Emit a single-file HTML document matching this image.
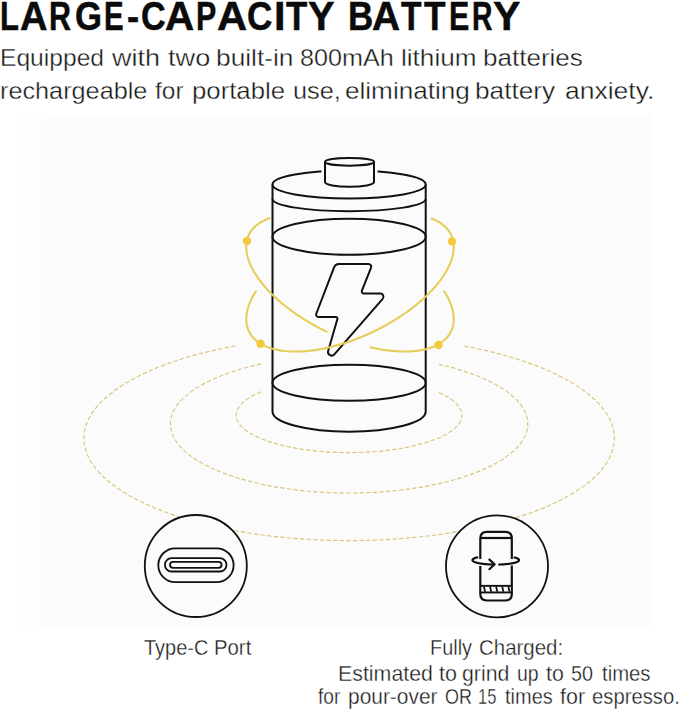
<!DOCTYPE html>
<html><head><meta charset="utf-8">
<style>
html,body{margin:0;padding:0;background:#fff;}
body{width:679px;height:710px;overflow:hidden;position:relative;font-family:"Liberation Sans",sans-serif;}
.ln{position:absolute;left:0;line-height:1;white-space:nowrap;-webkit-text-stroke:0.35px #fff;}
.ln span{position:absolute;top:0;transform-origin:0 0;}
#h1{position:absolute;left:0;top:-4px;font-size:40.5px;font-weight:bold;color:#0b0b0b;line-height:1;-webkit-text-stroke:0.5px #0b0b0b;}
#h1 span{position:absolute;top:0;transform-origin:0 0;white-space:nowrap;}
svg{position:absolute;left:0;top:0;}
</style></head>
<body>
<div style="position:absolute;left:22px;top:113px;width:631px;height:514px;background:#fdfdfd;"></div>
<div style="position:absolute;left:42px;top:118px;width:610px;height:508px;background:#fbfbfb;"></div>
<svg width="679" height="710" viewBox="0 0 679 710">
  <g fill="none" stroke="#d9c57c" stroke-width="1.15" stroke-dasharray="4.4 2.2">
    <path d="M235.30,345.90 A265.25,102.3 0 1 0 462.20,345.76"/>
    <path d="M261.20,363.92 A178.7,69 0 1 0 438.90,364.34"/>
    <path d="M261.20,391.69 A112.9,37.4 0 1 0 437.30,391.89"/>
  </g>
  <!-- battery -->
  <g fill="none" stroke="#111" stroke-width="2">
    <path d="M272.5,184.5 L272.5,411.5 A76.6,20.2 0 0 0 425.7,411.5 L425.7,184.5" fill="#fbfbfb"/>
    <ellipse cx="349.1" cy="184.5" rx="76.6" ry="14"/>
    <path d="M272.5,199 A76.6,12.2 0 0 0 425.7,199"/>
    <ellipse cx="349.1" cy="236.8" rx="76.6" ry="18"/>
    <ellipse cx="349.1" cy="382.7" rx="76.6" ry="18"/>
    <!-- cap halo -->
    <path d="M325,161.8 L325,182 A24.5,4.8 0 0 0 374,182 L374,161.8 Z" fill="#fbfbfb" stroke="#fbfbfb" stroke-width="7"/>
    <path d="M325,161.8 L325,182 A24.5,4.8 0 0 0 374,182 L374,161.8"/>
    <ellipse cx="349.5" cy="161.8" rx="24.5" ry="3.9"/>
    <path d="M334.17,267.11 A5,5 0 0 1 338.84,263.90 L368.46,263.90 A2.8,2.8 0 0 1 371.06,267.74 L361.91,290.58 A2.2,2.2 0 0 0 363.95,293.60 L380.26,293.60 A3.2,3.2 0 0 1 382.67,298.90 L334.31,354.32 A3.6,3.6 0 0 1 328.14,350.95 L337.41,319.05 A1.6,1.6 0 0 0 335.87,317.00 L318.49,317.00 A2.4,2.4 0 0 1 316.25,313.74 Z" stroke-linejoin="round"/>
  </g>
  <!-- rings -->
  <g fill="none" stroke="#e6cd5a" stroke-width="2.1" stroke-linecap="round">
    <path d="M269.57,218.21 L268.46,218.61 L267.38,219.02 L266.33,219.45 L265.29,219.89 L264.29,220.36 L263.30,220.84 L262.35,221.35 L261.41,221.87 L260.51,222.40 L259.63,222.96 L258.77,223.53 L257.94,224.12 L257.14,224.73 L256.37,225.35 L255.62,225.99 L254.90,226.65 L254.21,227.32 L253.54,228.01 L252.91,228.72 L252.30,229.44 L251.72,230.18 L251.17,230.93 L250.65,231.70 L250.15,232.48 L249.69,233.28 L249.25,234.09 L248.85,234.92 L248.47,235.76 L248.12,236.61 L247.81,237.48 L247.52,238.36 L247.26,239.25 L247.03,240.16 L246.83,241.07 L246.66,242.00 L246.53,242.95 L246.42,243.90 L246.34,244.87 L246.29,245.84 L246.27,246.83 L246.28,247.83 L246.33,248.84 L246.40,249.85 L246.50,250.88 L246.63,251.92 L246.80,252.96 L246.99,254.02 L247.21,255.08 L247.46,256.15 L247.74,257.23 L248.06,258.32 L248.40,259.41 L248.77,260.51 L249.17,261.62 L249.60,262.73 L250.05,263.85 L250.54,264.98 L251.06,266.11 L251.60,267.24 L252.18,268.38 L252.78,269.52 L253.41,270.67 L254.07,271.82 L254.75,272.98 L255.47,274.13 L256.21,275.29 L256.98,276.46 L257.77,277.62 L258.60,278.78 L259.45,279.95 L260.32,281.12 L261.22,282.29 L262.15,283.46 L263.10,284.62 L264.08,285.79 L265.08,286.96 L266.11,288.12 L267.16,289.29 L268.24,290.45 L269.34,291.61 L270.46,292.77 L271.61,293.92 L272.78,295.08 L273.97,296.22 L275.18,297.37 L276.42,298.51 L277.67,299.65 L278.95,300.78 L280.25,301.90 L281.57,303.02 L282.91,304.14 L284.26,305.25 L285.64,306.35 L287.04,307.44 L288.45,308.53 L289.88,309.61 L291.33,310.68 L292.80,311.75 L294.28,312.81 L295.78,313.85 L297.29,314.89 L298.82,315.92 L300.37,316.94 L301.93,317.95 L303.50,318.95 L305.09,319.94 L306.69,320.92 L308.30,321.89 L309.93,322.84 L311.56,323.79 L313.21,324.72 L314.87,325.64 L316.54,326.55 L318.21,327.45 L319.90,328.33 L321.60,329.20 L323.30,330.06 L325.01,330.90 L326.73,331.73"/>
    <path d="M370.38,347.26 L371.92,347.61 L373.45,347.95 L374.98,348.28 L376.51,348.59 L378.03,348.88 L379.54,349.16 L381.04,349.43 L382.54,349.68 L384.03,349.91 L385.51,350.13 L386.99,350.33 L388.45,350.52 L389.91,350.69 L391.36,350.85 L392.80,350.99 L394.22,351.12 L395.64,351.23 L397.05,351.32 L398.45,351.40 L399.83,351.46 L401.21,351.51 L402.57,351.54 L403.92,351.56 L405.26,351.56 L406.58,351.54 L407.89,351.51 L409.19,351.46 L410.48,351.40 L411.75,351.32 L413.01,351.23 L414.25,351.11 L415.48,350.99 L416.69,350.85 L417.89,350.69 L419.07,350.52 L420.23,350.33 L421.38,350.12 L422.52,349.90 L423.63,349.67 L424.73,349.42 L425.82,349.15 L426.88,348.87 L427.93,348.58 L428.96,348.27 L429.97,347.94 L430.96,347.60 L431.94,347.24 L432.89,346.87 L433.83,346.49 L434.74,346.09 L435.64,345.67 L436.52,345.25 L437.38,344.80 L438.22,344.35 L439.03,343.87 L439.83,343.39 L440.61,342.89 L441.36,342.38 L442.10,341.85 L442.81,341.31 L443.50,340.76 L444.17,340.19 L444.82,339.61 L445.45,339.02 L446.05,338.41 L446.64,337.79 L447.20,337.16 L447.73,336.52 L448.25,335.86 L448.74,335.19 L449.21,334.51 L449.66,333.82 L450.09,333.12 L450.49,332.40 L450.87,331.67 L451.22,330.94 L451.55,330.19 L451.86,329.43 L452.15,328.66 L452.41,327.87 L452.65,327.08 L452.86,326.28 L453.05,325.47 L453.22,324.65 L453.36,323.82 L453.48,322.98 L453.58,322.13 L453.65,321.27 L453.70,320.40 L453.72,319.53 L453.73,318.64 L453.70,317.75 L453.65,316.85 L453.58,315.94 L453.49,315.03 L453.37,314.10 L453.23,313.17 L453.06,312.24 L452.87,311.29 L452.66,310.34 L452.42,309.38 L452.16,308.42 L451.88,307.45 L451.57,306.48 L451.24,305.50 L450.88,304.51 L450.51,303.52 L450.10,302.53 L449.68,301.53 L449.23,300.53 L448.76,299.52 L448.27,298.51 L447.76,297.49 L447.22,296.48 L446.66,295.46 L446.08,294.43 L445.47,293.40 L444.85,292.38 L444.20,291.34"/>
    <path d="M431.80,218.71 L434.02,219.59 L436.13,220.56 L438.14,221.61 L440.03,222.74 L441.80,223.94 L443.47,225.21 L445.01,226.56 L446.43,227.99 L447.73,229.48 L448.90,231.04 L449.95,232.66 L450.88,234.35 L451.67,236.10 L452.34,237.91 L452.88,239.78 L453.28,241.70 L453.56,243.67 L453.70,245.70 L453.72,247.77 L453.60,249.89 L453.35,252.04 L452.97,254.24 L452.46,256.48 L451.82,258.74 L451.05,261.04 L450.15,263.37 L449.12,265.72 L447.97,268.09 L446.69,270.48 L445.30,272.89 L443.78,275.31 L442.14,277.74 L440.39,280.18 L438.52,282.62 L436.54,285.06 L434.45,287.50 L432.25,289.93 L429.95,292.35 L427.54,294.77 L425.04,297.16 L422.44,299.54 L419.75,301.90 L416.98,304.23 L414.12,306.54 L411.17,308.82 L408.15,311.06 L405.06,313.27 L401.89,315.44 L398.66,317.57 L395.37,319.66 L392.02,321.70 L388.62,323.69 L385.17,325.63 L381.67,327.51 L378.13,329.34 L374.56,331.11 L370.96,332.82 L367.33,334.46 L363.68,336.04 L360.01,337.55 L356.33,339.00 L352.64,340.37 L348.94,341.67 L345.25,342.90 L341.57,344.05 L337.89,345.12 L334.23,346.11 L330.59,347.03 L326.98,347.86 L323.39,348.61 L319.84,349.27 L316.32,349.86 L312.85,350.36 L309.43,350.77 L306.06,351.10 L302.74,351.34 L299.48,351.49 L296.29,351.56 L293.16,351.54 L290.11,351.43 L287.13,351.24 L284.24,350.96 L281.42,350.59 L278.69,350.14 L276.06,349.60 L273.52,348.98 L271.07,348.28 L268.72,347.49 L266.48,346.62 L264.34,345.67 L262.32,344.64 L260.40,343.53 L258.59,342.35 L256.91,341.09 L255.34,339.75 L253.89,338.35 L252.56,336.87 L251.36,335.33 L250.28,333.72 L249.32,332.04 L248.50,330.31 L247.80,328.51 L247.23,326.66 L246.80,324.75 L246.49,322.79 L246.32,320.77 L246.27,318.71 L246.36,316.61 L246.58,314.46 L246.93,312.27 L247.41,310.04 L248.03,307.78 L248.77,305.49 L249.63,303.17 L250.63,300.83 L251.75,298.46 L253.00,296.07 L254.37,293.67 L255.86,291.25"/>
  </g>
  <g fill="#f5c93c">
    <circle cx="247" cy="241" r="4.2"/>
    <circle cx="438.5" cy="345" r="4.2"/>
    <circle cx="452" cy="241.4" r="4.2"/>
    <circle cx="260.5" cy="343.7" r="4.2"/>
  </g>
  <!-- Type-C icon -->
  <g fill="none" stroke="#111" stroke-width="1.8">
    <circle cx="195.8" cy="566" r="51" fill="#fbfbfb"/>
    <rect x="158.3" y="548.3" width="75.3" height="33.8" rx="16.9"/>
    <rect x="164.9" y="558.2" width="61.6" height="13.3" rx="6.65"/>
    <rect x="170" y="561.8" width="51.6" height="6.1" rx="3.05"/>
  </g>
  <!-- phone icon -->
  <g fill="none" stroke="#111" stroke-width="1.8">
    <circle cx="497" cy="566.3" r="51" fill="#fbfbfb"/>
  </g>
  <g fill="none" stroke="#111" stroke-width="2.2">
    <path d="M480.3,559 L480.3,538.5 Q480.3,531.9 486.9,531.9 L505.2,531.9 Q511.8,531.9 511.8,538.5 L511.8,559"/>
    <path d="M480.3,566 L480.3,594 Q480.3,600.5 486.9,600.5 L505.2,600.5 Q511.8,600.5 511.8,594 L511.8,565.5"/>
    <line x1="480.3" y1="538" x2="511.8" y2="538"/>
  </g>
  <rect x="480.3" y="584.9" width="31.5" height="8.5" fill="#111"/>
  <rect x="481.3" y="586.8" width="29.5" height="4.7" fill="#fbfbfb"/>
  <g fill="#111">
    <polygon points="483.0,586.6 484.8,586.6 486.0,591.7 484.2,591.7"/>
    <polygon points="489.1,586.6 490.9,586.6 492.1,591.7 490.3,591.7"/>
    <polygon points="495.2,586.6 497.0,586.6 498.2,591.7 496.4,591.7"/>
    <polygon points="501.3,586.6 503.1,586.6 504.3,591.7 502.5,591.7"/>
    <polygon points="507.4,586.6 509.2,586.6 510.4,591.7 508.6,591.7"/>
  </g>
  <g fill="none" stroke="#111" stroke-width="2.2" stroke-linecap="round" stroke-linejoin="round">
    <path d="M477.20,557.38 L476.70,557.51 L476.22,557.65 L475.77,557.78 L475.35,557.93 L474.95,558.07 L474.58,558.22 L474.24,558.37 L473.93,558.52 L473.64,558.68 L473.39,558.84 L473.16,558.99 L472.97,559.15 L472.81,559.32 L472.67,559.48 L472.57,559.64 L472.50,559.80 L472.46,559.97 L472.45,560.13 L472.47,560.30 L472.53,560.46 L472.61,560.62 L472.72,560.79 L472.87,560.95 L473.04,561.11 L473.25,561.27 L473.49,561.43 L473.75,561.58 L474.05,561.74 L474.37,561.89 L474.72,562.04 L475.10,562.19 L475.51,562.33 L475.95,562.47 L476.41,562.61 L476.90,562.74 L477.41,562.87 L477.94,563.00 L478.50,563.13 L479.09,563.25 L479.69,563.36 L480.32,563.47 L480.97,563.58 L481.64,563.68 L482.32,563.78 L483.03,563.87 L483.75,563.96 L484.48,564.04 L485.24,564.12 L486.00,564.19 L486.78,564.25 L487.57,564.31 L488.37,564.37 L489.18,564.42 L490.01,564.46 L490.83,564.50 L491.67,564.53 L492.51,564.56 L493.35,564.58 L494.20,564.59"/>
    <path d="M489.4,559.6 L494.6,564.3 L489.4,569.2"/>
    <path d="M499.20,564.55 L500.00,564.52 L500.79,564.49 L501.58,564.46 L502.36,564.42 L503.13,564.37 L503.90,564.32 L504.65,564.26 L505.39,564.20 L506.12,564.13 L506.84,564.06 L507.55,563.98 L508.24,563.90 L508.91,563.81 L509.57,563.72 L510.22,563.63 L510.84,563.53 L511.45,563.42 L512.04,563.32 L512.61,563.21 L513.16,563.09 L513.69,562.97 L514.19,562.85 L514.67,562.73 L515.14,562.60 L515.57,562.46 L515.99,562.33 L516.38,562.19 L516.74,562.05 L517.08,561.91 L517.39,561.77 L517.68,561.62 L517.94,561.47 L518.17,561.32 L518.38,561.17 L518.56,561.02 L518.71,560.87 L518.83,560.71 L518.93,560.56 L519.00,560.40 L519.04,560.24 L519.05,560.09 L519.03,559.93 L518.99,559.78 L518.92,559.62 L518.82,559.46 L518.69,559.31 L518.53,559.16 L518.35,559.00 L518.14,558.85 L517.90,558.70 L517.64,558.56 L517.34,558.41 L517.03,558.27 L516.68,558.12 L516.32,557.98 L515.92,557.85 L515.51,557.71 L515.06,557.58 L514.60,557.45"/>
  </g>
</svg>
<div id="h1">
<span style="left:0.23px;transform:scaleX(0.765)">L</span>
<span style="left:20.46px;transform:scaleX(0.939)">A</span>
<span style="left:49.27px;transform:scaleX(0.752)">R</span>
<span style="left:75.01px;transform:scaleX(0.857)">G</span>
<span style="left:104.04px;transform:scaleX(0.728)">E</span>
<span style="left:126.54px;transform:scaleX(0.899)">-</span>
<span style="left:141.03px;transform:scaleX(0.843)">C</span>
<span style="left:165.19px;transform:scaleX(0.999)">A</span>
<span style="left:195.78px;transform:scaleX(0.750)">P</span>
<span style="left:216.95px;transform:scaleX(1.029)">A</span>
<span style="left:247.10px;transform:scaleX(0.866)">C</span>
<span style="left:273.60px;transform:scaleX(1.023)">I</span>
<span style="left:286.45px;transform:scaleX(0.858)">T</span>
<span style="left:308.11px;transform:scaleX(0.980)">Y</span>
<span style="left:347.56px;transform:scaleX(0.862)">B</span>
<span style="left:371.63px;transform:scaleX(0.961)">A</span>
<span style="left:401.16px;transform:scaleX(0.829)">T</span>
<span style="left:424.35px;transform:scaleX(0.870)">T</span>
<span style="left:449.07px;transform:scaleX(0.750)">E</span>
<span style="left:471.92px;transform:scaleX(0.698)">R</span>
<span style="left:493.28px;transform:scaleX(1.015)">Y</span>
</div>
<div class="ln" style="top:46.20px;font-size:24px;color:#161616"><span style="left:-0.45px;transform:scaleX(1.026)">Equipped</span><span style="left:112.10px;transform:scaleX(1.124)">with</span><span style="left:167.70px;transform:scaleX(1.131)">two</span><span style="left:215.91px;transform:scaleX(1.096)">built-in</span><span style="left:300.45px;transform:scaleX(1.048)">800mAh</span><span style="left:400.92px;transform:scaleX(1.088)">lithium</span><span style="left:483.03px;transform:scaleX(1.085)">batteries</span></div>
<div class="ln" style="top:78.70px;font-size:24px;color:#161616"><span style="left:-0.30px;transform:scaleX(1.052)">rechargeable</span><span style="left:155.40px;transform:scaleX(1.018)">for</span><span style="left:192.25px;transform:scaleX(1.073)">portable</span><span style="left:292.69px;transform:scaleX(1.054)">use,</span><span style="left:345.11px;transform:scaleX(1.088)">eliminating</span><span style="left:474.91px;transform:scaleX(1.093)">battery</span><span style="left:564.70px;transform:scaleX(1.104)">anxiety.</span></div>
<div class="ln" style="top:637.00px;font-size:22px;color:#161616"><span style="left:144.40px;transform:scaleX(0.907)">Type-C</span><span style="left:213.95px;transform:scaleX(0.924)">Port</span></div>
<div class="ln" style="top:637.10px;font-size:22px;color:#161616"><span style="left:430.09px;transform:scaleX(0.905)">Fully</span><span style="left:478.97px;transform:scaleX(0.930)">Charged:</span></div>
<div class="ln" style="top:662.90px;font-size:22px;color:#161616"><span style="left:338.16px;transform:scaleX(0.971)">Estimated</span><span style="left:438.70px;transform:scaleX(0.976)">to</span><span style="left:462.43px;transform:scaleX(0.970)">grind</span><span style="left:516.81px;transform:scaleX(0.887)">up</span><span style="left:546.00px;transform:scaleX(0.971)">to</span><span style="left:571.20px;transform:scaleX(0.900)">50</span><span style="left:601.50px;transform:scaleX(0.923)">times</span></div>
<div class="ln" style="top:685.70px;font-size:22px;color:#161616"><span style="left:317.60px;transform:scaleX(0.872)">for</span><span style="left:347.65px;transform:scaleX(0.951)">pour-over</span><span style="left:444.78px;transform:scaleX(0.816)">OR</span><span style="left:477.70px;transform:scaleX(0.750)">15</span><span style="left:504.90px;transform:scaleX(0.908)">times</span><span style="left:560.10px;transform:scaleX(0.976)">for</span><span style="left:591.58px;transform:scaleX(0.921)">espresso.</span></div>
</body></html>
